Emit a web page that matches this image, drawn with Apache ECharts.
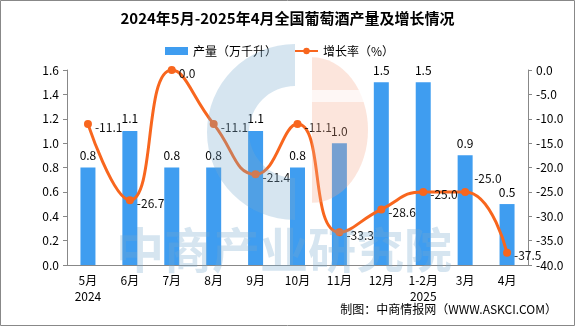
<!DOCTYPE html>
<html><head><meta charset="utf-8">
<script src="https://cdn.jsdelivr.net/npm/echarts@6/dist/echarts.min.js"></script>
<style>html,body{margin:0;padding:0;background:#fff}#c{width:575px;height:326px}</style>
</head><body><div id="c"></div>
<script>
var categories = ['5月\n2024','6月','7月','8月','9月','10月','11月','12月','1-2月\n2025','3月','4月'];
var production = [0.8,1.1,0.8,0.8,1.1,0.8,1.0,1.5,1.5,0.9,0.5];
var growth = [-11.1,-26.7,0.0,-11.1,-21.4,-11.1,-33.3,-28.6,-25.0,-25.0,-37.5];
var F = "'Noto Sans CJK SC', sans-serif";
var growthData = growth.map(function(v, i){
  return i === 9 ? {value: v, label: {offset: [2, -13]}} : v;
});
var chart = echarts.init(document.getElementById('c'));
chart.setOption({
  animation: false,
  backgroundColor: '#fff',
  title: {text: '2024年5月-2025年4月全国葡萄酒产量及增长情况', left: 'center', top: 6,
    textStyle: {fontFamily: F, fontSize: 15, fontWeight: 'bold', color: '#000'}},
  legend: {top: 40, left: 160, itemGap: 17, itemWidth: 23, itemHeight: 8,
    textStyle: {fontFamily: F, fontSize: 12, color: '#000'},
    data: [{name: '产量（万千升）', icon: 'rect'}, {name: '增长率（%）'}]},
  grid: {left: 67, right: 47, top: 70, bottom: 61},
  xAxis: {type: 'category', data: categories,
    axisLine: {lineStyle: {color: '#888'}},
    axisTick: {length: 5, lineStyle: {color: '#888'}},
    axisLabel: {fontFamily: F, fontSize: 12, color: '#000', margin: 7, lineHeight: 16}},
  yAxis: [
    {type: 'value', min: 0, max: 1.6, interval: 0.2, splitLine: {show: false},
      axisLine: {show: true, lineStyle: {color: '#888'}},
      axisTick: {show: true, length: 4, lineStyle: {color: '#888'}},
      axisLabel: {fontFamily: F, fontSize: 12, color: '#000', formatter: function(v){return v.toFixed(1);}}},
    {type: 'value', min: -40, max: 0, interval: 5, splitLine: {show: false},
      axisLine: {show: true, lineStyle: {color: '#888'}},
      axisTick: {show: true, length: 4, lineStyle: {color: '#888'}},
      axisLabel: {fontFamily: F, fontSize: 12, color: '#000', formatter: function(v){return v.toFixed(1);}}}
  ],
  series: [
    {name: '产量（万千升）', type: 'bar', data: production, barWidth: 15,
      itemStyle: {color: '#3F9DF0'},
      label: {show: true, position: 'top', distance: 6, fontFamily: F, fontSize: 12, color: '#000',
        formatter: function(p){return p.value.toFixed(1);}}},
    {name: '增长率（%）', type: 'line', yAxisIndex: 1, data: growthData, smooth: true,
      symbol: 'circle', symbolSize: 8,
      lineStyle: {color: '#F8661E', width: 3}, itemStyle: {color: '#F8661E'},
      label: {show: true, position: 'right', distance: 3, offset: [0, 3], fontFamily: F, fontSize: 12, color: '#111',
        formatter: function(p){return p.value.toFixed(1);}}}
  ],
  graphic: [
    {type: 'sector', z: 100, silent: true, shape: {cx: 295, cy: 132, r: 88, r0: 46, startAngle: Math.PI/2, endAngle: Math.PI*1.5},
      style: {fill: 'rgba(120,170,205,0.3)'}},
    {type: 'sector', z: 100, silent: true, x: 312, y: 130, scaleY: 1.3,
      shape: {cx: 0, cy: 0, r: 56, r0: 0, startAngle: -Math.PI/2, endAngle: Math.PI/2},
      style: {fill: 'rgba(245,170,140,0.3)'}},
    {type: 'rect', z: 101, silent: true, shape: {x: 311, y: 90, width: 60, height: 12}, style: {fill: 'rgba(255,255,255,0.7)'}},
    {type: 'text', z: 100, silent: true, left: 116, top: 226,
      style: {text: '中商产业研究院', fontFamily: F, fontSize: 48, fontWeight: 'bold', fill: 'rgba(120,170,205,0.3)'}},
    {type: 'text', right: 18, top: 303, style: {text: '制图：中商情报网（WWW.ASKCI.COM）', fontFamily: F, fontSize: 12, fill: '#000'}},
    {type: 'rect', silent: true, shape: {x: 0.5, y: 0.5, width: 574, height: 325}, style: {fill: null, stroke: '#888', lineWidth: 1}}
  ]
});
</script></body></html>
